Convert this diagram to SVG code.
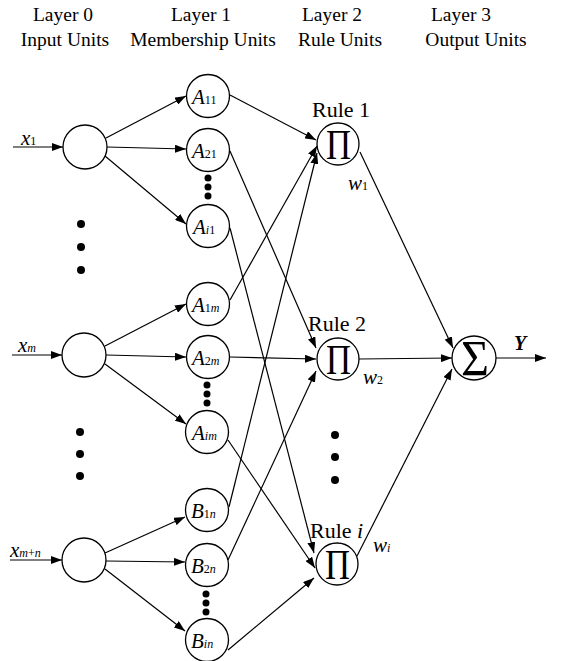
<svg xmlns="http://www.w3.org/2000/svg" width="564" height="661" viewBox="0 0 564 661">
<style>
  .hdr { font-family: "Liberation Serif", "Times New Roman", serif; font-size: 19.5px; fill: #000; text-anchor: middle; }
  .node { fill: #fff; stroke: #000; stroke-width: 1.3; }
  .lbl { font-family: "Liberation Serif", "Times New Roman", serif; fill: #000; }
  .big { font-size: 21px; font-style: italic; }
  .sub { font-size: 12px; font-style: normal; }
  .subi { font-size: 12px; font-style: italic; }
  .conn line { stroke: #000; stroke-width: 1.2; marker-end: url(#arr); }
  .dot { fill: #000; }
  .rule { font-family: "Liberation Serif", "Times New Roman", serif; font-size: 22px; fill: #000; }
</style>
<defs>
  <marker id="arr" markerUnits="userSpaceOnUse" markerWidth="11" markerHeight="8" refX="11" refY="4" orient="auto">
    <path d="M0,0 L11,4 L0,8 z" fill="#000"/>
  </marker>
</defs>
<rect width="564" height="661" fill="#fff"/>

<g id="headers">
  <text class="hdr" x="63" y="21">Layer 0</text>
  <text class="hdr" x="65" y="46">Input Units</text>
  <text class="hdr" x="201" y="21">Layer 1</text>
  <text class="hdr" x="203" y="46">Membership Units</text>
  <text class="hdr" x="332" y="21">Layer 2</text>
  <text class="hdr" x="340" y="46">Rule Units</text>
  <text class="hdr" x="461" y="21">Layer 3</text>
  <text class="hdr" x="476" y="46">Output Units</text>
</g>

<g id="connectors" class="conn">
  <line x1="13" y1="147" x2="63" y2="147"/>
  <line x1="12" y1="355" x2="62" y2="355"/>
  <line x1="10" y1="560" x2="62" y2="560"/>
  <line x1="106" y1="138" x2="186" y2="96"/>
  <line x1="107" y1="147" x2="186" y2="149"/>
  <line x1="105" y1="156" x2="186" y2="224"/>
  <line x1="105" y1="346" x2="186" y2="304"/>
  <line x1="106" y1="355" x2="186" y2="357"/>
  <line x1="105" y1="364" x2="186" y2="424"/>
  <line x1="105" y1="553" x2="185" y2="517"/>
  <line x1="106" y1="561" x2="185" y2="562"/>
  <line x1="105" y1="569" x2="185" y2="631"/>
  <line x1="230" y1="95" x2="316" y2="140"/>
  <line x1="230" y1="151" x2="316" y2="348"/>
  <line x1="230" y1="228" x2="314" y2="553"/>
  <line x1="230" y1="300" x2="317" y2="146"/>
  <line x1="230" y1="357" x2="316" y2="359"/>
  <line x1="228" y1="440" x2="315" y2="568"/>
  <line x1="229" y1="507" x2="317" y2="153"/>
  <line x1="228" y1="560" x2="316" y2="371"/>
  <line x1="228" y1="650" x2="314" y2="578"/>
  <line x1="360" y1="152" x2="453" y2="348"/>
  <line x1="359" y1="359" x2="452" y2="358"/>
  <line x1="357" y1="556" x2="452" y2="369"/>
  <line x1="496" y1="358" x2="546" y2="358"/>
</g>

<g id="in-labels">
  <text class="lbl big" x="21" y="145">x<tspan class="sub">1</tspan></text>
  <text class="lbl big" x="18" y="352">x<tspan class="subi">m</tspan></text>
  <text class="lbl big" x="10" y="557">x<tspan class="subi">m</tspan><tspan class="sub">+</tspan><tspan class="subi">n</tspan></text>
</g>

<g id="input-1"><circle class="node" cx="85" cy="147" r="22"/></g>
<g id="input-m"><circle class="node" cx="84" cy="355" r="22"/></g>
<g id="input-mn"><circle class="node" cx="84" cy="560" r="22"/></g>

<g id="dots-layer0">
  <circle class="dot" cx="81" cy="224" r="4"/>
  <circle class="dot" cx="81" cy="247" r="4"/>
  <circle class="dot" cx="81" cy="270" r="4"/>
  <circle class="dot" cx="80" cy="432" r="4"/>
  <circle class="dot" cx="80" cy="454" r="4"/>
  <circle class="dot" cx="80" cy="476" r="4"/>
</g>

<g id="A11"><circle class="node" cx="208" cy="96" r="21.5"/><text class="lbl big" x="192" y="104">A<tspan class="sub">11</tspan></text></g>
<g id="A21"><circle class="node" cx="208" cy="150" r="21.5"/><text class="lbl big" x="192" y="158">A<tspan class="sub">21</tspan></text></g>
<g id="Ai1"><circle class="node" cx="208" cy="226" r="21.5"/><text class="lbl big" x="193" y="234">A<tspan class="subi">i</tspan><tspan class="sub">1</tspan></text></g>
<g id="A1m"><circle class="node" cx="208" cy="304" r="21.5"/><text class="lbl big" x="192" y="312">A<tspan class="sub">1</tspan><tspan class="subi">m</tspan></text></g>
<g id="A2m"><circle class="node" cx="208" cy="357" r="21.5"/><text class="lbl big" x="192" y="365">A<tspan class="sub">2</tspan><tspan class="subi">m</tspan></text></g>
<g id="Aim"><circle class="node" cx="207" cy="432" r="21.5"/><text class="lbl big" x="192" y="440">A<tspan class="subi">im</tspan></text></g>
<g id="B1n"><circle class="node" cx="207" cy="510" r="21.5"/><text class="lbl big" x="191" y="518">B<tspan class="sub">1</tspan><tspan class="subi">n</tspan></text></g>
<g id="B2n"><circle class="node" cx="207" cy="565" r="21.5"/><text class="lbl big" x="191" y="573">B<tspan class="sub">2</tspan><tspan class="subi">n</tspan></text></g>
<g id="Bin"><circle class="node" cx="207" cy="640" r="21.5"/><text class="lbl big" x="191" y="648">B<tspan class="subi">in</tspan></text></g>

<g id="dots-layer1">
  <circle class="dot" cx="208" cy="178" r="3.5"/>
  <circle class="dot" cx="208" cy="187" r="3.5"/>
  <circle class="dot" cx="208" cy="196" r="3.5"/>
  <circle class="dot" cx="207" cy="385" r="3.5"/>
  <circle class="dot" cx="207" cy="394" r="3.5"/>
  <circle class="dot" cx="207" cy="403" r="3.5"/>
  <circle class="dot" cx="206" cy="594" r="3.5"/>
  <circle class="dot" cx="206" cy="603" r="3.5"/>
  <circle class="dot" cx="206" cy="612" r="3.5"/>
</g>

<g id="rule-1">
  <circle class="node" cx="338" cy="144" r="21"/>
  <text class="lbl" x="326" y="159" font-size="42" textLength="25" lengthAdjust="spacingAndGlyphs">Π</text>
  <text class="rule" x="312" y="117">Rule 1</text>
  <text class="lbl big" x="348" y="190" font-size="22">w<tspan class="sub">1</tspan></text>
</g>
<g id="rule-2">
  <circle class="node" cx="338" cy="359" r="21"/>
  <text class="lbl" x="326" y="374" font-size="42" textLength="25" lengthAdjust="spacingAndGlyphs">Π</text>
  <text class="rule" x="308" y="331">Rule 2</text>
  <text class="lbl big" x="363" y="384" font-size="22">w<tspan class="sub">2</tspan></text>
</g>
<g id="rule-i">
  <circle class="node" cx="337" cy="564" r="21"/>
  <text class="lbl" x="325" y="579" font-size="42" textLength="25" lengthAdjust="spacingAndGlyphs">Π</text>
  <text class="rule" x="310" y="538">Rule <tspan font-style="italic">i</tspan></text>
  <text class="lbl big" x="373" y="552" font-size="22">w<tspan class="subi">i</tspan></text>
</g>

<g id="dots-layer2">
  <circle class="dot" cx="335" cy="435" r="4"/>
  <circle class="dot" cx="335" cy="457" r="4"/>
  <circle class="dot" cx="335" cy="480" r="4"/>
</g>

<g id="sum">
  <circle class="node" cx="474" cy="358" r="22"/>
  <text class="lbl" x="461" y="375" font-size="50" textLength="28" lengthAdjust="spacingAndGlyphs">Σ</text>
  <text class="lbl" x="514" y="350" font-size="20" font-weight="bold" font-style="italic">Y</text>
</g>
</svg>
